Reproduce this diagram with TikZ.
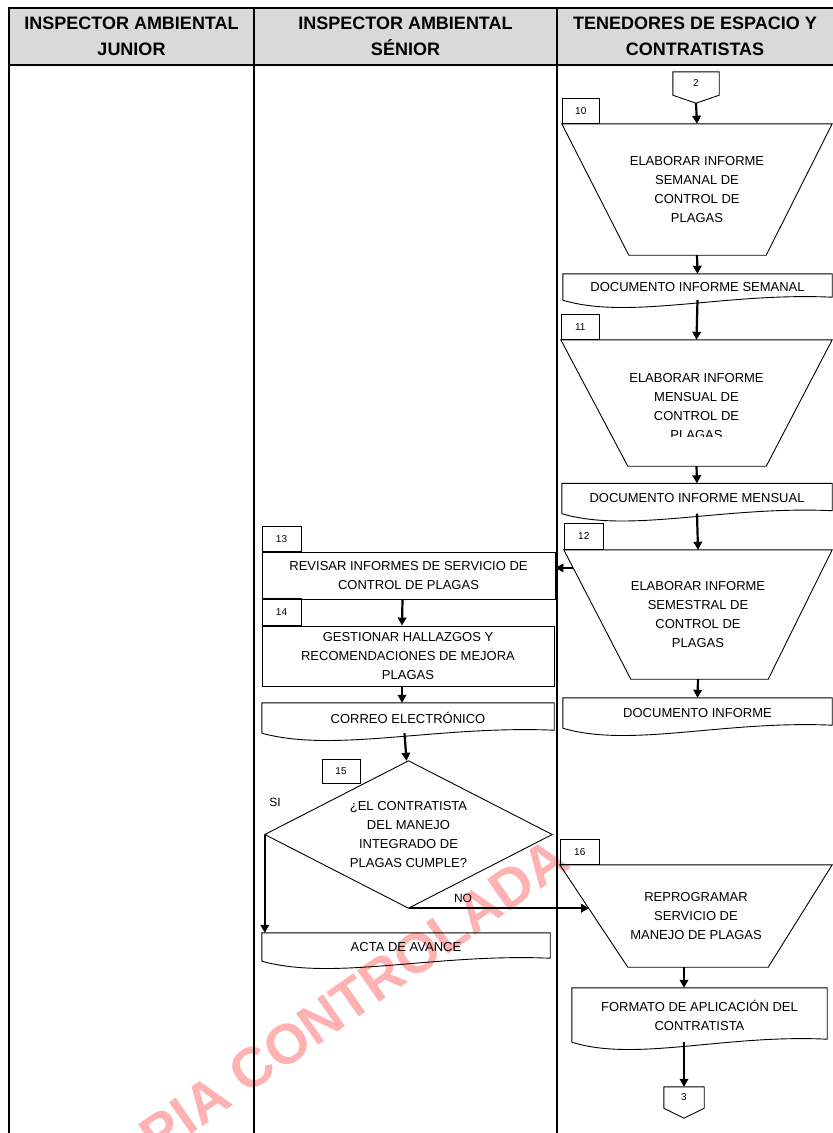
\documentclass[tikz,border=0pt]{standalone}
\usepackage{fontspec}
\setmainfont{Liberation Sans}
\usetikzlibrary{arrows.meta,calc}

\newcommand\docpath[1]{%
  \draw[shp] (#1.south west) -- (#1.north west) -- (#1.north east) -- ($(#1.south east)+(0,-3)$)
    .. controls ($(#1.south west)!0.6!(#1.south east)+(0,-8)$) and ($(#1.south west)!0.25!(#1.south east)+(0,20)$) .. (#1.south west);
}
\newcommand\trappath[3]{%
  \coordinate (#1bl) at ($(#1.south west)+(#2,0)$);
  \coordinate (#1br) at ($(#1.south east)+(-#3,0)$);
  \draw[shp] (#1.north west) -- (#1.north east) -- (#1br) -- (#1bl) -- cycle;
}

\begin{document}
\begin{tikzpicture}[x=1pt,y=-1pt,
  lane/.style={line width=2pt},
  shp/.style={draw=black, line width=0.9pt},
  arr/.style={line width=2.2pt, -{Triangle[length=8pt,width=8.5pt]}},
  hold/.style={inner sep=0pt, font=\fontsize{13}{19}\selectfont, align=center},
  num/.style={draw=black, line width=0.9pt, inner sep=0pt, font=\fontsize{10}{12}\selectfont},
  hdr/.style={font=\bfseries\fontsize{18}{26}\selectfont, align=center, inner sep=0pt},
  lbl/.style={font=\fontsize{12}{14}\selectfont, inner sep=0pt},
]
\useasboundingbox (0,0) rectangle (833,1133);
\fill[white] (0,0) rectangle (833,1133);

% watermark
\begin{scope}
  \clip (0,0) rectangle (833,1133);
  \node[rotate=35, text=red!30, font=\bfseries\fontsize{56}{60}\selectfont, inner sep=0pt] (wm) at (320,1021) {COPIA CONTROLADA};
\end{scope}

% header and lanes
\fill[gray!30] (9,8) rectangle (833,65);
\node[hdr] (h1) at (131.5,36) {INSPECTOR AMBIENTAL\\JUNIOR};
\node[hdr] (h2) at (405.5,36) {INSPECTOR AMBIENTAL\\SÉNIOR};
\node[hdr] (h3) at (695,36) {TENEDORES DE ESPACIO Y\\CONTRATISTAS};
\draw[lane] (9,1133) -- (9,8) -- (833,8);
\draw[lane] (9,65) -- (833,65);
\draw[lane] (254,8) -- (254,1133);
\draw[lane] (557,8) -- (557,1133);

% connector 2
\node[inner sep=0pt, minimum width=46, minimum height=23, font=\fontsize{10}{12}\selectfont] (c2) at (696,83.5) {2};
\draw[shp] (c2.south west) -- (c2.north west) -- (c2.north east) -- (c2.south east) -- ($(c2.south)+(0,8)$) -- cycle;
\coordinate (c2p) at ($(c2.south)+(0,8)$);

% step 10
\node[hold, minimum width=270, minimum height=131] (T10) at (697,189.5) {ELABORAR INFORME\\SEMANAL DE\\CONTROL DE\\PLAGAS};
\trappath{T10}{67}{66}
\node[num, minimum width=37, minimum height=25, anchor=south west] (n10) at (T10.north west) {10};
\draw[arr] (c2p) -- (T10.north);

\node[hold, minimum width=269, minimum height=26] (D1) at (697.5,287) {DOCUMENTO INFORME SEMANAL};
\docpath{D1}
\draw[arr] (T10.south) -- (D1.north);

% step 11
\node[hold, minimum width=271, minimum height=126] (T11) at (696.5,403) {};
\trappath{T11}{67}{66}
\begin{scope}
  \clip (560,340) rectangle (833,436);
  \node[hold] (T11t) at (696.5,406.5) {ELABORAR INFORME\\MENSUAL DE\\CONTROL DE\\PLAGAS};
\end{scope}
\node[num, minimum width=38, minimum height=25, anchor=south west] (n11) at (T11.north west) {11};
\draw[arr] (D1.south) -- (T11.north);

\node[hold, minimum width=270, minimum height=30] (D2) at (697,498.5) {DOCUMENTO INFORME MENSUAL};
\docpath{D2}
\draw[arr] (T11.south) -- (D2.north);

% step 12
\node[hold, minimum width=268, minimum height=129] (T12) at (698,614.5) {ELABORAR INFORME\\SEMESTRAL DE\\CONTROL DE\\PLAGAS};
\trappath{T12}{67}{64}
\node[num, minimum width=39, minimum height=26, anchor=south west] (n12) at (T12.north west) {12};
\draw[arr] (D2.south) -- (T12.north);

\node[hold, minimum width=269, minimum height=30] (D3) at (697.5,713) {DOCUMENTO INFORME};
\docpath{D3}
\draw[arr] (T12.south) -- (D3.north);

% step 13, 14
\node[shp, hold, minimum width=293, minimum height=47] (B13) at (408.5,575.5) {REVISAR INFORMES DE SERVICIO DE\\CONTROL DE PLAGAS};
\node[num, minimum width=39, minimum height=25, anchor=south west] (n13) at (B13.north west) {13};
\coordinate (l12) at ($(T12.north west)!0.14!(T12bl)$);
\draw[arr] (l12) -- (l12 -| B13.east);

\node[shp, hold, minimum width=292, minimum height=60] (B14) at (408,656) {GESTIONAR HALLAZGOS Y\\RECOMENDACIONES DE MEJORA\\PLAGAS};
\node[num, minimum width=39, minimum height=27, anchor=south west] (n14) at (B14.north west) {14};
\draw[arr] ($(B13.south)+(-6,0)$) -- ($(B14.north)+(-6,0)$);

\node[hold, minimum width=292, minimum height=30] (D4) at (408,718) {CORREO ELECTRÓNICO};
\docpath{D4}
\draw[arr] ($(B14.south)+(-6,0)$) -- ($(D4.north)+(-6,0)$);

% decision 15
\node[hold, minimum width=287, minimum height=147] (D15) at (408.5,834.5) {¿EL CONTRATISTA\\DEL MANEJO\\INTEGRADO DE\\PLAGAS CUMPLE?};
\draw[shp] (D15.north) -- (D15.east) -- (D15.south) -- (D15.west) -- cycle;
\node[num, minimum width=38, minimum height=24] (n15) at (341,771) {15};
\draw[arr] ($(D15.north |- D4.south)+(-4,0)$) -- ($(D15.north)+(-2,0)$);

\node[lbl] (si) at (275,802) {SI};
\node[hold, minimum width=288, minimum height=28] (ACTA) at (406,947) {ACTA DE AVANCE};
\docpath{ACTA}
\draw[arr] (D15.west) -- (D15.west |- ACTA.north);

% step 16
\node[hold, minimum width=272, minimum height=102] (T16) at (696,916) {REPROGRAMAR\\SERVICIO DE\\MANEJO DE PLAGAS};
\trappath{T16}{68}{64}
\node[num, minimum width=39, minimum height=25, anchor=south west] (n16) at (T16.north west) {16};
\coordinate (t16l) at ($(T16.north west)!0.43!(T16bl)$);
\draw[arr] (D15.south) -- (D15.south -| t16l);
\node[lbl] (no) at (463,898) {NO};

\node[hold, minimum width=255, minimum height=54] (D6) at (699.5,1015) {FORMATO DE APLICACIÓN DEL\\CONTRATISTA};
\docpath{D6}

% connector 3
\node[inner sep=0pt, minimum width=40, minimum height=21, font=\fontsize{10}{12}\selectfont] (c3) at (684,1097.5) {3};
\draw[shp] (c3.south west) -- (c3.north west) -- (c3.north east) -- (c3.south east) -- ($(c3.south)+(0,10)$) -- cycle;

\draw[arr] (T16.south -| c3) -- (D6.north -| c3);
\draw[arr] (D6.south -| c3) -- (c3.north);
\end{tikzpicture}
\end{document}
